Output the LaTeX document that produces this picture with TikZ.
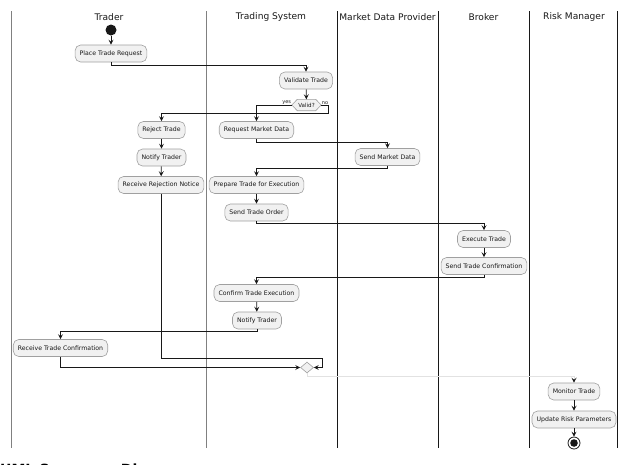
\documentclass[tikz,border=0pt]{standalone}
\usepackage{fontspec}
\setmainfont{DejaVu Sans}
\usetikzlibrary{arrows.meta,shapes.geometric,calc}
\definecolor{actfill}{HTML}{F1F1F1}
\definecolor{actline}{HTML}{A0A0A0}
\definecolor{ink}{HTML}{181818}
\definecolor{faint}{HTML}{E2E2E2}

\begin{document}
\begin{tikzpicture}[x=1pt,y=-1pt,
  lane/.style={line width=1pt,draw=ink},
  lanelight/.style={line width=0.9pt,draw=black!50},
  lanetitle/.style={font=\fontsize{9.1}{11}\selectfont,text=ink},
  act/.style={draw=actline,fill=actfill,rounded corners=5.5pt,line width=0.6pt,
    font=\fontsize{6.2}{7.5}\selectfont,text=ink,inner xsep=4.6pt,inner ysep=0pt,
    minimum height=17pt},
  flow/.style={draw=ink,line width=0.8pt,-{Stealth[length=5pt,width=5pt,inset=2pt]}},
  faintflow/.style={draw=faint,line width=0.8pt,-{Stealth[length=5pt,width=5pt,inset=2pt,color=ink]}},
  guard/.style={font=\fontsize{5}{6}\selectfont,text=ink,inner sep=0.5pt},
  title/.style={font=\fontsize{14}{16}\selectfont\bfseries,text=black,inner sep=0pt}
]
\useasboundingbox (0,0) rectangle (639,464);
\clip (0,0) rectangle (639,464);

% page titles (partly outside the frame)
\node[title,anchor=base west] (toptitle) at (-5,-4) {UML Activity Diagram};
\node[title,anchor=base west] (bottomtitle) at (0,474) {UML Sequence Diagram};

% swimlane separators
\draw[lanelight] (11,11) -- (11,448);
\draw[lanelight] (206,11) -- (206,448);
\draw[lane] (337,11) -- (337,448);
\draw[lane] (438,11) -- (438,448);
\draw[lane] (529,11) -- (529,448);
\draw[lane] (617,11) -- (617,448);

% swimlane headers
\node[lanetitle] (hTrader) at (109,17) {Trader};
\node[lanetitle] (hSystem) at (271,17) {Trading System};
\node[lanetitle] (hMarket) at (387.5,17) {Market Data Provider};
\node[lanetitle] (hBroker) at (483.5,17) {Broker};
\node[lanetitle] (hRisk) at (574,17) {Risk Manager};

% start
\node[circle,fill=ink,minimum size=11pt,inner sep=0pt] (start) at (111,30) {};

% activities
\node[act] (place) at (111,53.5) {Place Trade Request};
\node[act] (validate) at (306,80.5) {Validate Trade};
\node[inner sep=0pt,minimum width=29pt,minimum height=11pt,
      font=\fontsize{5.6}{6.5}\selectfont,text=ink] (valid) at (306.5,105) {Valid?};
\draw[draw=actline,fill=actfill,line width=0.6pt]
  (valid.west) -- ([xshift=5.5pt]valid.north west) -- ([xshift=-5.5pt]valid.north east)
  -- (valid.east) -- ([xshift=-5.5pt]valid.south east) -- ([xshift=5.5pt]valid.south west) -- cycle;
\node[inner sep=0pt,font=\fontsize{5.6}{6.5}\selectfont,text=ink] at (valid) {Valid?};
\node[guard,anchor=south east] (yes) at (valid.west) {yes};
\node[guard,anchor=south west] (no) at (valid.east) {no};

\node[act] (reject) at (161.5,130) {Reject Trade};
\node[act] (notifyA) at (161.5,157.5) {Notify Trader};
\node[act] (rejnotice) at (161,185) {Receive Rejection Notice};
\node[act] (reqmd) at (256.5,130) {Request Market Data};
\node[act] (sendmd) at (387.5,157) {Send Market Data};
\node[act] (prepare) at (256.5,185) {Prepare Trade for Execution};
\node[act] (sendorder) at (256.5,212.5) {Send Trade Order};
\node[act] (execute) at (484,239) {Execute Trade};
\node[act] (sendconf) at (484,266) {Send Trade Confirmation};
\node[act] (confirm) at (256.5,293) {Confirm Trade Execution};
\node[act] (notifyB) at (257,320.5) {Notify Trader};
\node[act] (recvconf) at (60.5,348) {Receive Trade Confirmation};
\node[diamond,draw=actline,fill=actfill,line width=0.6pt,inner sep=0pt,
      minimum width=13pt,minimum height=11pt] (merge) at (307,367.5) {};
\node[act] (monitor) at (574,391.5) {Monitor Trade};
\node[act] (update) at (574,419.5) {Update Risk Parameters};

% end
\node[circle,draw=ink,line width=0.8pt,minimum size=12pt,inner sep=0pt] (stop) at (574,443) {};
\fill[ink] (stop.center) circle (3.8pt);

% bend points
\coordinate (nojoin) at (328,113);
\coordinate (rejjoin) at (322,358);

% flows
\draw[flow] (start) -- (place);
\draw[flow] (place.south) -- ++(0,3) -| (validate.north);
\draw[flow] (validate) -- (valid);
\draw[flow] (valid.west) -| (reqmd.north);
\draw[flow] (valid.east) -| (nojoin) -| (reject.north);
\draw[flow] (reject) -- (notifyA);
\draw[flow] (notifyA) -- (rejnotice);
\draw[flow] (reqmd.south) -- ++(0,3.5) -| (sendmd.north);
\draw[flow] (sendmd.south) -- ++(0,2.5) -| (prepare.north);
\draw[flow] (prepare) -- (sendorder);
\draw[flow] (sendorder.south) -- ++(0,2) -| (execute.north);
\draw[flow] (execute) -- (sendconf);
\draw[flow] (sendconf.south) -- ++(0,3) -| (confirm.north);
\draw[flow] (confirm) -- (notifyB);
\draw[flow] (notifyB.south) -- ++(0,2) -| (recvconf.north);
\draw[flow] (rejnotice.south) |- (rejjoin) |- (merge.east);
\draw[flow] (recvconf.south) |- (merge.west);
\draw[faintflow] (merge.south) -- ++(0,3) -| (monitor.north);
\draw[flow] (monitor) -- (update);
\draw[flow] (update) -- (stop);
\end{tikzpicture}
\end{document}
